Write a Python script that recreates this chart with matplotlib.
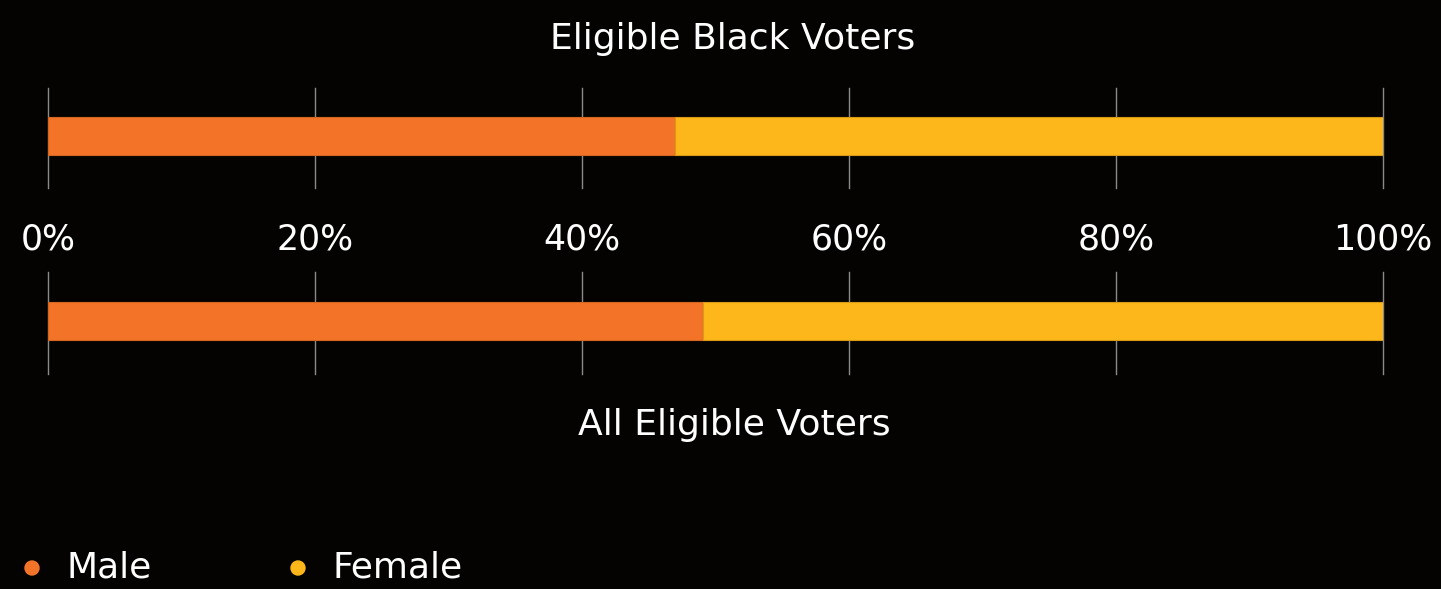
import matplotlib
matplotlib.use("Agg")
import matplotlib.pyplot as plt

groups = ["Eligible Black Voters", "All Eligible Voters"]
male = [47.0, 49.1]
female = [53.0, 50.9]
ticks = [0, 20, 40, 60, 80, 100]
tick_labels = ["0%", "20%", "40%", "60%", "80%", "100%"]
series_names = ["Male", "Female"]
colors = ["#F37429", "#FDB71A"]

W, H = 1441, 589
plt.rcParams['font.family'] = ['DejaVu Sans']
FW = "normal"
FS = 26
FT = 25
fig = plt.figure(figsize=(W / 100, H / 100), dpi=100)
fig.patch.set_facecolor("#040302")

def px_axes(x0, y0, x1, y1):
    return fig.add_axes([x0 / W, 1 - y1 / H, (x1 - x0) / W, (y1 - y0) / H])

ax1 = px_axes(48, 88, 1383, 188)
ax2 = px_axes(48, 272, 1383, 374)

for i, ax in enumerate([ax1, ax2]):
    ax.set_facecolor("none")
    ax.set_xlim(0, 100)
    ax.set_ylim(-0.52, 0.48)
    ax.barh([0], [male[i]], height=0.38, color=colors[0], edgecolor="#D5661F", linewidth=0.8, zorder=3)
    ax.barh([0], [female[i]], left=[male[i]], height=0.38, color=colors[1], edgecolor="#D89A14", linewidth=0.8, zorder=3)
    for t in ticks:
        ax.axvline(t, color="#8a8a8a", linewidth=1.0, zorder=1, clip_on=False)
    for s in ax.spines.values():
        s.set_visible(False)
    ax.set_yticks([])
    ax.set_xticks(ticks)
    ax.tick_params(axis="x", length=0)
    if i == 0:
        ax.set_xticklabels(tick_labels, color="white", fontsize=FT, fontweight=FW)
        ax.tick_params(axis="x", pad=25)
    else:
        ax.set_xticklabels([])

fig.text(733 / W, 1 - 39 / H, groups[0], color="white", fontsize=FS, fontweight=FW, ha="center", va="center")
fig.text(734 / W, 1 - 425 / H, groups[1], color="white", fontsize=FS, fontweight=FW, ha="center", va="center")

# legend
for x_dot, x_txt, name, c in [(32, 66, series_names[0], colors[0]), (298, 333, series_names[1], colors[1])]:
    fig.patches.append(matplotlib.patches.Ellipse((x_dot / W, 1 - 568 / H), 14 / W, 14 / H,
                                                   transform=fig.transFigure, color=c))
    fig.text(x_txt / W, 1 - 568 / H, name, color="white", fontsize=FS, fontweight=FW, ha="left", va="center")

fig.savefig("out.png", dpi=100, facecolor=fig.get_facecolor())
